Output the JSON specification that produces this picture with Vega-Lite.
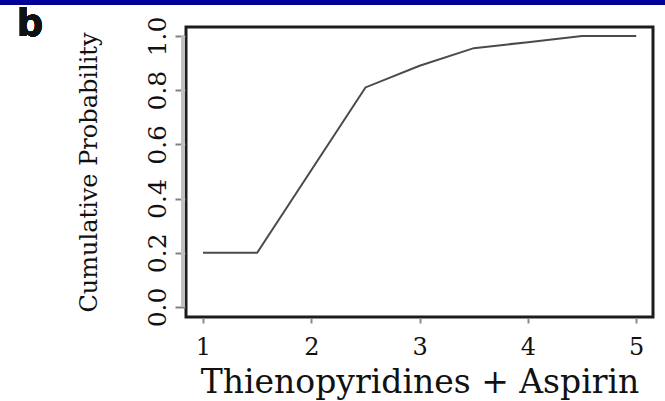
{
  "$schema": "https://vega.github.io/schema/vega-lite/v6.json",
  "autosize": "none",
  "width": 467,
  "height": 290,
  "padding": {"left": 186, "top": 27, "right": 12, "bottom": 84},
  "background": "white",
  "config": {
    "view": {"stroke": "#1c1c1c", "strokeWidth": 3},
    "axis": {"grid": false}
  },
  "data": {
    "values": [
      {"x": 1, "p": 0.2},
      {"x": 1.5, "p": 0.2},
      {"x": 2.5, "p": 0.81},
      {"x": 3, "p": 0.89},
      {"x": 3.5, "p": 0.955},
      {"x": 4, "p": 0.977},
      {"x": 4.5, "p": 1.0},
      {"x": 5, "p": 1.0}
    ]
  },
  "layer": [
    {
      "mark": {"type": "rule", "color": "#c0c0c0", "strokeWidth": 3, "clip": false},
      "encoding": {
        "x": {"datum": 0.816, "type": "quantitative"},
        "y": {"datum": 0, "type": "quantitative"},
        "y2": {"datum": 1}
      }
    },
    {
      "mark": {"type": "rect", "color": "#000099", "clip": false},
      "encoding": {
        "x": {"datum": -2, "type": "quantitative"},
        "x2": {"datum": 7},
        "y": {"datum": 1.114, "type": "quantitative"},
        "y2": {"datum": 1.3}
      }
    },
    {
      "mark": {"type": "text", "text": "b", "font": "DejaVu Sans", "fontWeight": "bold", "fontSize": 37, "align": "left", "baseline": "alphabetic", "color": "#111", "clip": false},
      "encoding": {
        "x": {"datum": -0.72, "type": "quantitative"},
        "y": {"datum": 1.0, "type": "quantitative"}
      }
    },
    {
      "mark": {"type": "line", "color": "#4a4a4a", "strokeWidth": 2},
      "encoding": {
        "x": {
          "field": "x",
          "type": "quantitative",
          "scale": {"domain": [0.843, 5.155], "nice": false, "zero": false},
          "axis": {
            "title": "Thienopyridines + Aspirin",
            "values": [1, 2, 3, 4, 5],
            "format": "d",
            "domain": false,
            "offset": 1,
            "tickSize": 5,
            "tickWidth": 2,
            "tickColor": "#8a8a8a",
            "labelFont": "DejaVu Serif",
            "labelFontSize": 24,
            "labelColor": "#111",
            "labelPadding": 12,
            "titleFont": "DejaVu Serif",
            "titleFontSize": 33,
            "titleFontWeight": "normal",
            "titleColor": "#111",
            "titlePadding": 7
          }
        },
        "y": {
          "field": "p",
          "type": "quantitative",
          "scale": {"domain": [-0.037, 1.033], "nice": false, "zero": false},
          "axis": {
            "title": "Cumulative Probability",
            "values": [0, 0.2, 0.4, 0.6, 0.8, 1.0],
            "format": ".1f",
            "domain": false,
            "offset": 1,
            "tickSize": 10,
            "tickWidth": 2,
            "tickColor": "#808080",
            "labelAngle": 270,
            "labelAlign": "center",
            "labelBaseline": "bottom",
            "labelFont": "DejaVu Serif",
            "labelFontSize": 25,
            "labelColor": "#111",
            "labelPadding": 5,
            "titleFont": "DejaVu Serif",
            "titleFontSize": 24,
            "titleFontWeight": "normal",
            "titleColor": "#111",
            "titlePadding": 44
          }
        }
      }
    }
  ]
}
